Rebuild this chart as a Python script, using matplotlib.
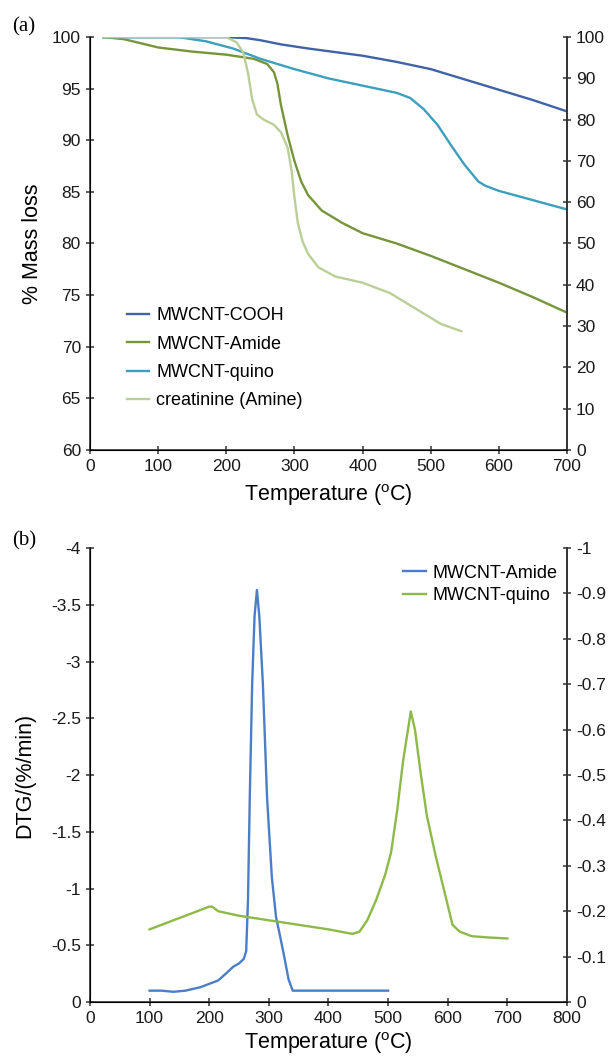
"""
TGA (a) and DTG (b) curves of functionalised MWCNTs
"""
import numpy as np
import matplotlib
matplotlib.use('Agg')
import matplotlib.pyplot as plt

plt.rcParams['font.family'] = ['Liberation Sans', 'DejaVu Sans']
plt.rcParams['mathtext.fontset'] = 'custom'
plt.rcParams['mathtext.rm'] = 'Liberation Sans'
plt.rcParams['axes.unicode_minus'] = False

# ---- panel (a): mass loss (%) vs temperature (C) ----
t_cooh = [20, 100, 200, 230, 250, 280, 320, 400, 450, 500, 550, 600, 650, 700]
m_cooh = [100, 100, 100, 99.9, 99.7, 99.3, 98.9, 98.2, 97.6, 96.9, 95.9,
          94.9, 93.9, 92.8]

t_amide = [20, 50, 100, 150, 200, 240, 260, 270, 275, 280, 290, 300, 310,
           320, 340, 370, 400, 450, 500, 550, 600, 650, 700]
m_amide = [100, 99.8, 99.0, 98.6, 98.3, 97.9, 97.4, 96.6, 95.5, 93.5, 90.5,
           88.0, 86.0, 84.7, 83.2, 82.0, 81.0, 80.0, 78.8, 77.5, 76.2, 74.8,
           73.3]

t_quino = [20, 130, 170, 210, 250, 300, 350, 400, 450, 470, 490, 510, 530,
           550, 570, 580, 600, 650, 700]
m_quino = [100, 100, 99.6, 98.9, 97.9, 96.9, 96.0, 95.3, 94.6, 94.1, 93.0,
           91.5, 89.5, 87.6, 86.0, 85.6, 85.1, 84.2, 83.3]

t_creat = [20, 200, 215, 225, 232, 238, 245, 255, 270, 280, 290, 296, 300,
           305, 312, 320, 335, 360, 400, 440, 480, 515, 545]
m_creat = [100, 100, 99.5, 98.5, 96.5, 94.0, 92.5, 92.0, 91.5, 90.8, 89.3,
           87.0, 84.5, 82.0, 80.2, 79.0, 77.7, 76.8, 76.2, 75.2, 73.6, 72.2,
           71.5]

# ---- panel (b): DTG (%/min) vs temperature (C) ----
t_dtg_amide = [100, 120, 140, 160, 185, 200, 215, 230, 240, 250, 258, 262,
               265, 268, 272, 276, 280, 284, 290, 297, 305, 312, 318, 325,
               333, 340, 400, 500]
d_dtg_amide = [-0.1, -0.1, -0.09, -0.1, -0.13, -0.16, -0.19, -0.26, -0.31,
               -0.34, -0.38, -0.45, -0.9, -1.8, -2.8, -3.4, -3.63, -3.4,
               -2.8, -1.8, -1.1, -0.75, -0.6, -0.42, -0.2, -0.1, -0.1, -0.1]

t_dtg_quino = [100, 200, 205, 215, 250, 300, 350, 400, 440, 452, 465, 480,
               495, 505, 515, 525, 538, 545, 555, 565, 580, 595, 608, 620,
               640, 670, 700]
d_dtg_quino = [-0.16, -0.21, -0.21, -0.20, -0.19, -0.18, -0.17, -0.16,
               -0.15, -0.155, -0.18, -0.225, -0.28, -0.33, -0.42, -0.53,
               -0.64, -0.60, -0.50, -0.41, -0.32, -0.24, -0.17, -0.155,
               -0.145, -0.142, -0.14]

TLABEL = r'Temperature ($^{\rm o}$C)'
SPINE = '#333333'


def style_axes(ax, right):
    ax.spines['top'].set_visible(False)
    for side in ('left', 'bottom', 'right'):
        ax.spines[side].set_color(SPINE)
        ax.spines[side].set_linewidth(1.2)
    ax.tick_params(direction='inout', length=6, width=1.1, colors=SPINE,
                   labelsize=12.5, labelcolor='#1a1a1a')
    right.spines['top'].set_visible(False)
    right.spines['right'].set_color(SPINE)
    right.spines['right'].set_linewidth(1.2)
    right.tick_params(direction='inout', length=6, width=1.1, colors=SPINE,
                      labelsize=12.5, labelcolor='#1a1a1a')


def main():
    fig = plt.figure(figsize=(6.12, 10.61), dpi=100)

    # ==== (a) TGA ====
    ax1 = fig.add_axes([0.147, 0.576, 0.7795, 0.389])
    ax1.plot(t_cooh, m_cooh, color='#3f63a6', lw=1.7, label='MWCNT-COOH')
    ax1.plot(t_amide, m_amide, color='#76953a', lw=1.7, label='MWCNT-Amide')
    ax1.plot(t_quino, m_quino, color='#3b9fbd', lw=1.7, label='MWCNT-quino')
    ax1.plot(t_creat, m_creat, color='#b9cf97', lw=1.7,
             label='creatinine (Amine)')
    ax1.set_xlim(0, 700)
    ax1.set_ylim(60, 100)
    ax1.set_xticks(np.arange(0, 701, 100))
    ax1.set_yticks(np.arange(60, 101, 5))
    r1 = ax1.twinx()
    r1.set_ylim(0, 100)
    r1.set_yticks(np.arange(0, 101, 10))
    style_axes(ax1, r1)
    ax1.set_xlabel(TLABEL, fontsize=15.5, labelpad=6)
    ax1.set_ylabel('% Mass loss', fontsize=15.5)
    ax1.yaxis.set_label_coords(-0.098, 0.5)
    ax1.legend(loc='upper left', bbox_to_anchor=(0.078, 0.345), frameon=False,
               fontsize=13, borderpad=0, borderaxespad=0, handlelength=1.2,
               handletextpad=0.4, labelspacing=0.62)
    fig.text(0.02, 0.975, '(a)', family=['Liberation Serif', 'DejaVu Serif'],
             fontsize=15, va='center', ha='left')

    # ==== (b) DTG ====
    ax2 = fig.add_axes([0.147, 0.0556, 0.7795, 0.4279])
    ax2.plot(t_dtg_amide, d_dtg_amide, color='#4a7ec6', lw=1.7,
             label='MWCNT-Amide')
    r2 = ax2.twinx()
    r2.plot(t_dtg_quino, d_dtg_quino, color='#8cb948', lw=1.7,
            label='MWCNT-quino')
    ax2.set_xlim(0, 800)
    ax2.set_ylim(0, -4)
    ax2.set_xticks(np.arange(0, 801, 100))
    ax2.set_yticks(np.arange(0, -4.01, -0.5))
    ax2.yaxis.set_major_formatter(plt.FormatStrFormatter('%g'))
    r2.set_ylim(0, -1)
    r2.set_yticks(np.round(np.arange(0, -1.01, -0.1), 1))
    r2.yaxis.set_major_formatter(plt.FormatStrFormatter('%g'))
    style_axes(ax2, r2)
    ax2.set_xlabel(TLABEL, fontsize=15.5, labelpad=3)
    ax2.set_ylabel('DTG/(%/min)', fontsize=15.5)
    ax2.yaxis.set_label_coords(-0.114, 0.5)
    h1, l1 = ax2.get_legend_handles_labels()
    h2, l2 = r2.get_legend_handles_labels()
    r2.legend(h1 + h2, l1 + l2, loc='upper left',
              bbox_to_anchor=(0.656, 0.963), frameon=False, fontsize=13,
              borderpad=0, borderaxespad=0, handlelength=1.3,
              handletextpad=0.35, labelspacing=0.3)
    fig.text(0.02, 0.49, '(b)', family=['Liberation Serif', 'DejaVu Serif'],
             fontsize=15, va='center', ha='left')

    fig.savefig('out.png', dpi=100)


# ==== EXECUTE SCRIPT ====
if __name__ == "__main__":
    main()
